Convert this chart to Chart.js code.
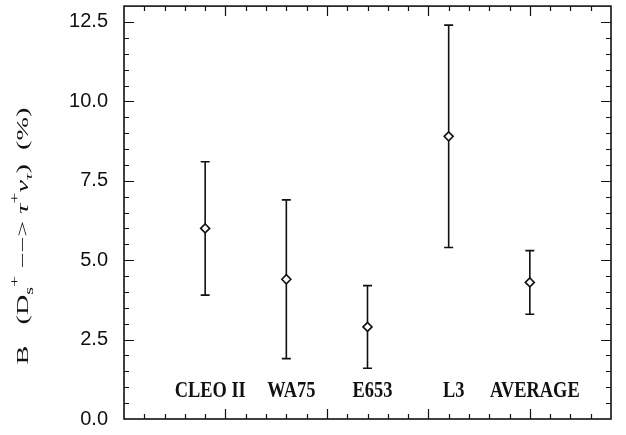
<!DOCTYPE html>
<html>
<head>
<meta charset="utf-8">
<script src="https://cdn.jsdelivr.net/npm/chart.js@4"></script>
<style>
  html, body { margin: 0; padding: 0; background: #fff; }
  #wrap { width: 626px; height: 435px; }
</style>
</head>
<body>
<div id="wrap"><canvas id="chart" width="626" height="435"></canvas></div>
<script>
const categories = ["CLEO II", "WA75", "E653", "L3", "AVERAGE"];
const xValues = [0.8, 1.6, 2.4, 3.2, 4.0];
const centralValues = [6.0, 4.4, 2.9, 8.9, 4.3];
const upperValues = [8.1, 6.9, 4.2, 12.4, 5.3];
const lowerValues = [3.9, 1.9, 1.6, 5.4, 3.3];
const yTickLabels = [0, 2.5, 5, 7.5, 10, 12.5];
const xMajorTicks = [1, 2, 3, 4];

const ink = "#111";

// frame + inward ticks on all four sides
const framePlugin = {
  id: "frame",
  afterDraw(chart) {
    const { ctx, chartArea: a, scales } = chart;
    const x = scales.x, y = scales.y;
    ctx.save();
    ctx.strokeStyle = ink;
    ctx.lineWidth = 1.6;
    ctx.strokeRect(a.left, a.top, a.right - a.left, a.bottom - a.top);
    ctx.lineWidth = 1.2;
    ctx.beginPath();
    // y ticks every 0.5, major every 2.5
    for (let i = 1; i * 0.5 < y.max; i++) {
      const py = Math.round(y.getPixelForValue(i * 0.5)) + 0.5;
      const len = (i % 5 === 0) ? 10 : 5;
      ctx.moveTo(a.left, py); ctx.lineTo(a.left + len, py);
      ctx.moveTo(a.right, py); ctx.lineTo(a.right - len, py);
    }
    // x ticks every 0.2, major every 1
    for (let i = 1; i * 0.2 < x.max - 0.01; i++) {
      const px = Math.round(x.getPixelForValue(i * 0.2)) + 0.5;
      const major = xMajorTicks.some(m => Math.abs(m - i * 0.2) < 1e-6);
      const len = major ? 10 : 5;
      ctx.moveTo(px, a.bottom); ctx.lineTo(px, a.bottom - len);
      ctx.moveTo(px, a.top); ctx.lineTo(px, a.top + len);
    }
    ctx.stroke();
    ctx.restore();
  }
};

// vertical error bars with caps
const errorBarPlugin = {
  id: "errorBars",
  beforeDatasetsDraw(chart) {
    const { ctx, scales } = chart;
    ctx.save();
    ctx.strokeStyle = ink;
    ctx.lineWidth = 1.6;
    xValues.forEach((xv, i) => {
      const px = scales.x.getPixelForValue(xv);
      const top = scales.y.getPixelForValue(upperValues[i]);
      const bot = scales.y.getPixelForValue(lowerValues[i]);
      ctx.beginPath();
      ctx.moveTo(px, top); ctx.lineTo(px, bot);
      ctx.moveTo(px - 4.5, top); ctx.lineTo(px + 4.5, top);
      ctx.moveTo(px - 4.5, bot); ctx.lineTo(px + 4.5, bot);
      ctx.stroke();
    });
    ctx.restore();
  }
};

// experiment names inside the plot, near the bottom
const labelPlugin = {
  id: "catLabels",
  afterDraw(chart) {
    const { ctx, chartArea: a, scales } = chart;
    ctx.save();
    ctx.fillStyle = ink;
    ctx.font = "bold 23px 'Liberation Serif'";
    ctx.textAlign = "center";
    ctx.textBaseline = "alphabetic";
    categories.forEach((c, i) => {
      const px = scales.x.getPixelForValue(xValues[i]);
      ctx.save();
      ctx.translate(px + 5, a.bottom - 22);
      ctx.scale(0.8, 1);
      ctx.fillText(c, 0, 0);
      ctx.restore();
    });
    ctx.restore();
  }
};

// rotated y title with sub/superscripts, stretched along its length
const yTitlePlugin = {
  id: "yTitle",
  afterDraw(chart) {
    const { ctx } = chart;
    const base = "17px 'Liberation Serif'";
    const ital = "italic 17px 'Liberation Serif'";
    const small = "12px 'Liberation Serif'";
    const parts = [
      { t: "B   (D", f: base, dy: 0 },
      { t: "s", f: small, dy: 5 },
      { t: "+", f: small, dy: -9 },
      { t: " \u2212\u2212> ", f: base, dy: 0 },
      { t: "\u03c4", f: ital, dy: 0 },
      { t: "+", f: small, dy: -9 },
      { t: "\u03bd", f: ital, dy: 0 },
      { t: "\u03c4", f: "italic 11px 'Liberation Serif'", dy: 4 },
      { t: ")  (%)", f: base, dy: 0 }
    ];
    const stretch = 1.66;
    ctx.save();
    let total = 0;
    parts.forEach(p => {
      ctx.font = p.f;
      p.x = total;
      total += ctx.measureText(p.t).width;
    });
    ctx.translate(28, 236);
    ctx.rotate(-Math.PI / 2);
    ctx.scale(stretch, 1);
    ctx.fillStyle = ink;
    ctx.textBaseline = "alphabetic";
    parts.forEach(p => {
      ctx.font = p.f;
      ctx.fillText(p.t, p.x - total / 2, p.dy);
    });
    ctx.restore();
  }
};

new Chart(document.getElementById("chart"), {
  type: "scatter",
  data: {
    datasets: [{
      data: xValues.map((x, i) => ({ x: x, y: centralValues[i] })),
      pointStyle: "rectRot",
      pointRadius: 4.5,
      pointBackgroundColor: "#fff",
      pointBorderColor: ink,
      pointBorderWidth: 1.6,
      showLine: false
    }]
  },
  options: {
    responsive: false,
    animation: false,
    layout: { padding: { top: 5, right: 15, bottom: 16, left: 0 } },
    plugins: { legend: { display: false }, tooltip: { enabled: false } },
    scales: {
      x: {
        type: "linear",
        min: 0,
        max: 4.8,
        grid: { display: false },
        border: { display: false },
        ticks: { display: false },
        afterFit(scale) { scale.height = 0; }
      },
      y: {
        type: "linear",
        min: 0,
        max: 13,
        grid: { display: false, drawTicks: false },
        border: { display: false },
        afterBuildTicks(scale) {
          scale.ticks = yTickLabels.map(v => ({ value: v }));
        },
        ticks: {
          padding: 16,
          color: ink,
          font: { family: "'Liberation Sans'", size: 20 },
          callback: v => v.toFixed(1)
        },
        afterFit(scale) {
          scale.width = 124;
          scale.paddingTop = 0;
          scale.paddingBottom = 0;
        }
      }
    }
  },
  plugins: [framePlugin, errorBarPlugin, labelPlugin, yTitlePlugin]
});
</script>
</body>
</html>
